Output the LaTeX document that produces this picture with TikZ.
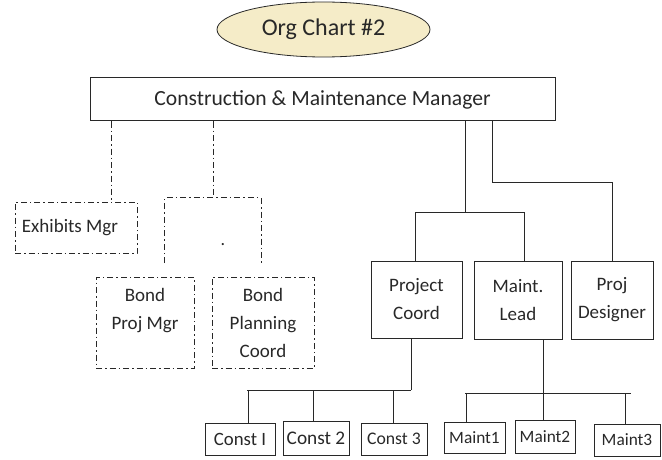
\documentclass[tikz,border=0pt]{standalone}
\usepackage{fontspec}
\setmainfont{Carlito}
\usetikzlibrary{shapes.geometric}
\definecolor{titlefill}{RGB}{245,236,200}
\definecolor{ink}{RGB}{40,40,40}
\begin{document}
\begin{tikzpicture}[x=1pt,y=-1pt,
  ddpat/.style={dash pattern=on 6pt off 3pt on 1.5pt off 3pt},
  box/.style={draw=ink,line width=1pt,rectangle,inner sep=0pt,align=center,text=ink,
    font=\fontsize{19}{28}\selectfont},
  ddbox/.style={box,ddpat},
  smallbox/.style={box,font=\fontsize{17.3}{20}\selectfont},
  link/.style={draw=ink,line width=1pt},
  ddlink/.style={link,ddpat}]
\useasboundingbox (0,0) rectangle (662,460);

% title
\node[ellipse,draw=ink,line width=0.8pt,fill=titlefill,minimum width=213pt,minimum height=55pt,
  inner sep=0pt,text=ink,font=\fontsize{24}{26}\selectfont] (title) at (323.5,29.5) {Org Chart \#2};

% manager
\node[box,minimum width=465pt,minimum height=43pt,font=\fontsize{21.6}{24}\selectfont] (mgr) at (322.5,99.5)
  {Construction \& Maintenance Manager};

% dotted-line reports
\node[ddbox,minimum width=122pt,minimum height=51pt] (exh) at (76,227.5) {\hspace*{-12pt}Exhibits Mgr};
\node[minimum width=96pt,minimum height=65pt,inner sep=0pt] (grp) at (213,230.5) {};
\node[anchor=base,inner sep=0pt,text=ink,font=\fontsize{18}{28}\selectfont] (dot) at (223,245) {.};
\node[ddbox,minimum width=98pt,minimum height=91pt] (bpm) at (145,322.5) {Bond\\Proj Mgr\\\mbox{}};
\node[ddbox,minimum width=102pt,minimum height=91pt] (bpc) at (263,322.5) {Bond\\Planning\\Coord};

% direct reports
\node[box,minimum width=91pt,minimum height=77pt] (pc) at (416.5,299.5) {Project\\Coord};
\node[box,minimum width=88pt,minimum height=78pt] (ml) at (518,300) {Maint.\\Lead};
\node[box,minimum width=82pt,minimum height=78pt] (pd) at (612,300) {Proj\\Designer};

% bottom row
\node[smallbox,minimum width=70pt,minimum height=32pt,font=\fontsize{18.8}{20}\selectfont] (c1) at (240,439) {Const I};
\node[smallbox,minimum width=66pt,minimum height=34pt,font=\fontsize{19.3}{20}\selectfont] (c2) at (316,438) {Const 2};
\node[smallbox,minimum width=66pt,minimum height=32pt,font=\fontsize{17.7}{20}\selectfont] (c3) at (394,439) {Const 3};
\node[smallbox,minimum width=61pt,minimum height=31pt] (m1) at (474.5,437.5) {Maint1};
\node[smallbox,minimum width=60pt,minimum height=33pt] (m2) at (545,436.5) {Maint2};
\node[smallbox,minimum width=66pt,minimum height=32pt] (m3) at (627,440) {Maint3};

% helper coordinates
\coordinate (xa) at (111,0);
\coordinate (xb) at (465,212);
\coordinate (xc) at (492,182);
\coordinate (xl) at (415,212);
\coordinate (xr) at (524,212);
\coordinate (pb) at (411,390);
\coordinate (cl) at (247,390);
\coordinate (x1) at (248,0);
\coordinate (x2) at (313,0);
\coordinate (x3) at (393,0);
\coordinate (mb) at (543,393);
\coordinate (ml0) at (465,393);
\coordinate (mr0) at (631,393);
\coordinate (x4) at (466,0);
\coordinate (x6) at (625,0);

% dash-dot connectors
\draw[ddlink] (mgr.south -| xa) -- (exh.north -| xa);
\draw[ddlink] (mgr.south -| grp.north) -- (grp.north);
\draw[ddlink] (grp.south west) -- (grp.north west) -- (grp.north east) -- (grp.south east);

% solid connectors
\draw[link] (mgr.south -| xb) -- (xb);
\draw[link] (xl) -- (xr);
\draw[link] (xl) -- (pc.north -| xl);
\draw[link] (xr) -- (ml.north -| xr);
\draw[link] (mgr.south -| xc) -- (xc) -| (pd.north);

\draw[link] (pc.south -| pb) -- (pb);
\draw[link] (cl) -- (pb);
\draw[link] (cl -| x1) -- (c1.north -| x1);
\draw[link] (cl -| x2) -- (c2.north -| x2);
\draw[link] (cl -| x3) -- (c3.north -| x3);

\draw[link] (ml.south -| mb) -- (m2.north -| mb);
\draw[link] (ml0) -- (mr0);
\draw[link] (mb -| x4) -- (m1.north -| x4);
\draw[link] (mb -| x6) -- (m3.north -| x6);
\end{tikzpicture}
\end{document}
